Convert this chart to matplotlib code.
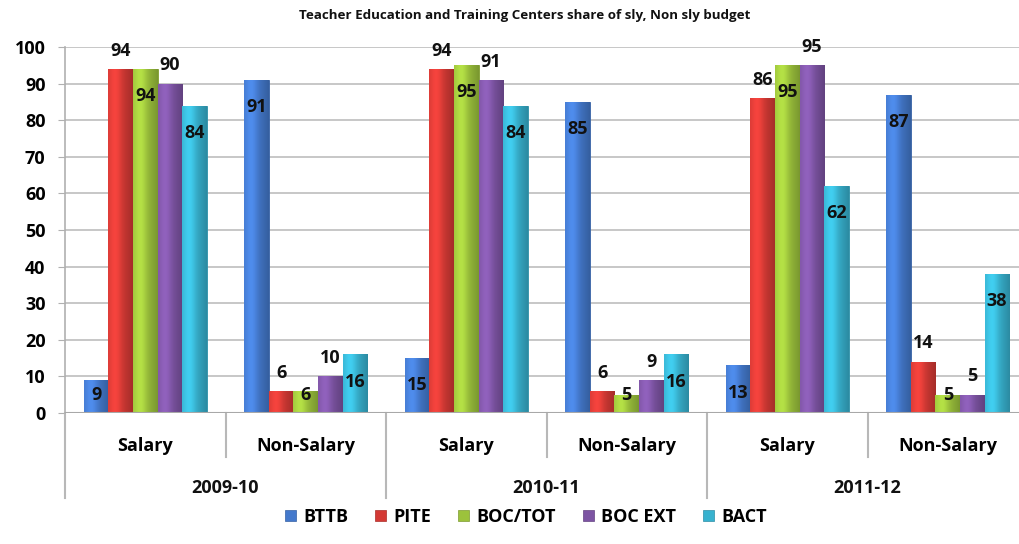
import matplotlib
matplotlib.use("Agg")
import matplotlib.pyplot as plt
import numpy as np
from matplotlib.patches import Patch
from matplotlib.transforms import blended_transform_factory
from matplotlib.colors import to_rgb

plt.rcParams['font.family'] = ['Open Sans', 'DejaVu Sans']
plt.rcParams['font.weight'] = 'bold'

title = "Teacher Education and Training Centers share of sly, Non sly budget"
years = ["2009-10", "2010-11", "2011-12"]
categories = ["Salary", "Non-Salary", "Salary", "Non-Salary", "Salary", "Non-Salary"]
series_names = ["BTTB", "PITE", "BOC/TOT", "BOC EXT", "BACT"]
BTTB = [9, 91, 15, 85, 13, 87]
PITE = [94, 6, 94, 6, 86, 14]
BOC_TOT = [94, 6, 95, 5, 95, 5]
BOC_EXT = [90, 10, 91, 9, 95, 5]
BACT = [84, 16, 84, 16, 62, 38]
series = [BTTB, PITE, BOC_TOT, BOC_EXT, BACT]
colors = ["#4479cc", "#d43a35", "#9cc23c", "#7d54a3", "#38b2cf"]
label_inside = [True, False, True, False, True]

fig = plt.figure(figsize=(10.19, 5.44), dpi=100)
ax = fig.add_axes([65/1019, 131/544, 963/1019, 366/544])

n = len(categories)
x = np.arange(n)
w = 0.153

ax.set_ylim(0, 100)
ax.set_xlim(-0.5, n - 0.5)
ax.set_yticks(np.arange(0, 101, 10))
ax.yaxis.grid(True, color="#bdbdbd", linewidth=1.2)
ax.set_axisbelow(True)

for j, (vals, c) in enumerate(zip(series, colors)):
    pos = x + (j - 2) * w
    bars = ax.bar(pos, vals, width=w, color=c, edgecolor=tuple(v * 0.8 for v in to_rgb(c)),
                  linewidth=0.6, zorder=2)
    base = np.array(to_rgb(c))
    t = np.linspace(0, 1, 64)
    shade = 1.0 + 0.18 * np.exp(-((t - 0.3) / 0.25) ** 2) - 0.22 * t ** 2
    grad = np.clip(base[None, :] * shade[:, None], 0, 1)[None, :, :]
    for b in bars:
        bx, by = b.get_x(), b.get_y()
        bw, bh = b.get_width(), b.get_height()
        im = ax.imshow(grad, extent=[bx, bx + bw, by, by + bh], aspect='auto',
                       zorder=2.1, interpolation='bilinear')
        im.set_clip_path(b)
    for xi, v in zip(pos, vals):
        if label_inside[j]:
            ly = max(v - 7.4, 5)
        else:
            ly = v + 5
        ax.text(xi, ly, str(v), ha='center', va='center', fontsize=13,
                fontweight='bold', color='#111111', zorder=5)

for s in ["top", "right", "bottom"]:
    ax.spines[s].set_visible(False)
ax.spines["left"].set_color("#b0b0b0")
ax.spines["left"].set_linewidth(1.2)
ax.axhline(0, color="#a8a8a8", linewidth=1.5, zorder=3)
ax.tick_params(axis='y', length=5, color="#b0b0b0", pad=9, labelsize=13)
ax.tick_params(axis='x', length=0, pad=17, labelsize=13)
ax.set_xticks(x)
ax.set_xticklabels(categories, fontweight='bold')
for lab in ax.get_yticklabels():
    lab.set_fontweight('bold')

trans = blended_transform_factory(ax.transData, ax.transAxes)
px = 1 / 366.0
for i in range(n + 1):
    xb = i - 0.5
    y_end = -85 * px if i % 2 == 0 else -44 * px
    ax.plot([xb, xb], [0, y_end], transform=trans, color="#b8b8b8",
            linewidth=1.5, clip_on=False)
for k, yr in enumerate(years):
    ax.text(2 * k + 0.5, -75 * px, yr, transform=trans, ha='center', va='center',
            fontsize=13, fontweight='bold', color='#111111')

fig.text(525/1019, 1 - 15/544, title, ha='center', va='center', fontsize=9.6,
         fontweight='bold', color='#111111')

handles = [Patch(facecolor=c, edgecolor=tuple(v * 0.8 for v in to_rgb(c)), linewidth=0.5)
           for c in colors]
fig.legend(handles, series_names, loc='center', bbox_to_anchor=(526/1019, 27/544),
           ncol=5, frameon=False, handlelength=0.6, handleheight=0.6,
           handletextpad=0.4, columnspacing=1.5, prop={'weight': 'bold', 'size': 13})

fig.savefig("out.png", dpi=100)
